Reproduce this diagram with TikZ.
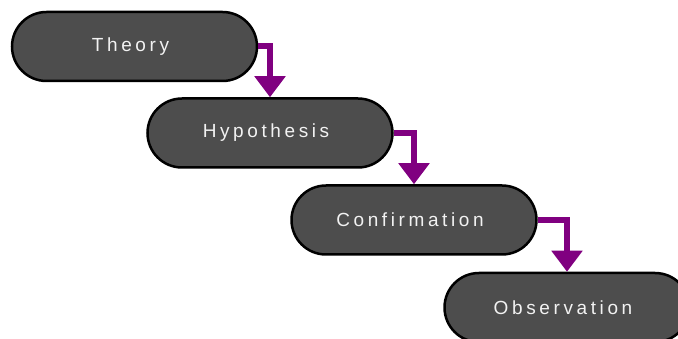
\documentclass[tikz,border=0pt]{standalone}
\usepackage{fontspec}
\setmainfont{Liberation Sans}
\usetikzlibrary{arrows.meta}
\definecolor{stagefill}{HTML}{4D4D4D}
\definecolor{flowpurple}{HTML}{800080}
\definecolor{stagetext}{HTML}{F2F2F2}
\newcommand{\stagelabel}[1]{\kern-8pt#1}
\tikzset{
  stage/.style={draw=black, line width=2.5pt, fill=stagefill,
    rounded corners=34.5pt, minimum width=245pt, minimum height=69pt,
    inner sep=0pt, text=stagetext,
    font=\fontsize{19}{21}\selectfont\addfontfeature{LetterSpace=19}},
  flow/.style={draw=flowpurple, line width=6pt, line join=miter,
    -{Triangle[width=30pt,length=21pt]}}
}
\begin{document}
\begin{tikzpicture}[x=1pt,y=-1pt]
  \useasboundingbox (0,0) rectangle (678,339);
  \node[stage] (theory) at (134.5,46.5) {\stagelabel{Theory}};
  \node[stage] (hyp) at (270,133) {\stagelabel{Hypothesis}};
  \node[stage] (conf) at (414,220) {\stagelabel{Confirmation}};
  \node[stage] (obs) at (567,307.5) {\stagelabel{Observation}};
  \draw[flow] (theory.east) -| (hyp.north);
  \draw[flow] (hyp.east) -| (conf.north);
  \draw[flow] (conf.east) -| (obs.north);
\end{tikzpicture}
\end{document}
